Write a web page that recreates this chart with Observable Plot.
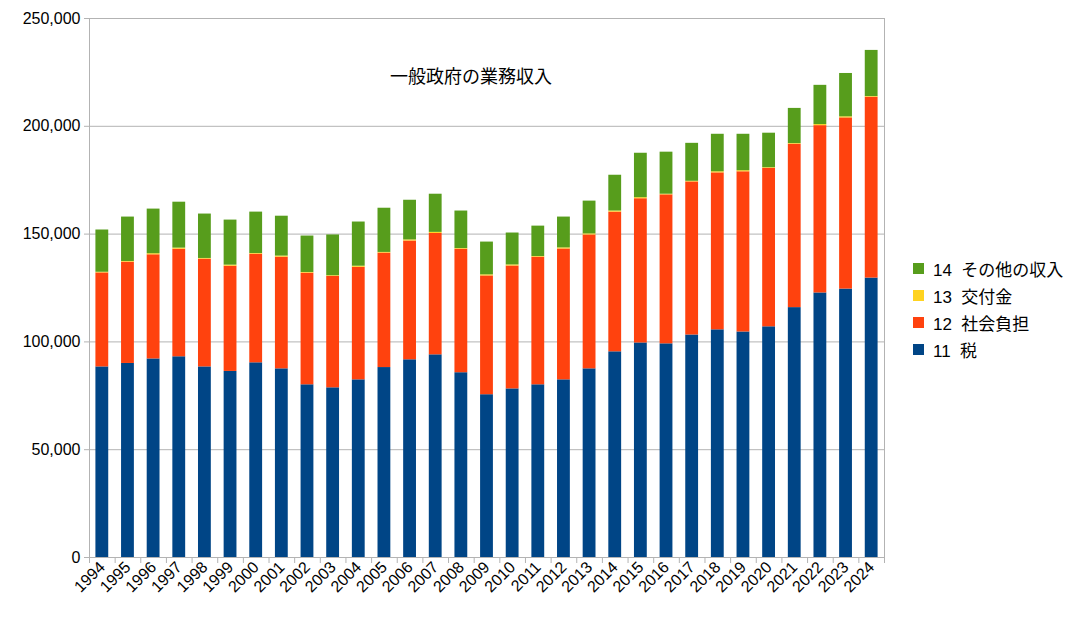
<!DOCTYPE html>
<html><head><meta charset="utf-8">
<script src="https://cdn.jsdelivr.net/npm/d3@7"></script>
<script src="https://cdn.jsdelivr.net/npm/@observablehq/plot@0.6"></script>
<style>
body{margin:0;background:#fff;font-family:"Liberation Sans","Noto Sans CJK JP",sans-serif;}
#wrap{position:relative;width:1092px;height:618px;}
#legend{position:absolute;left:913px;top:255px;font-size:17px;color:#000;}
.item{display:flex;align-items:center;height:27px;white-space:pre;}
.sw{width:11px;height:11px;margin-right:9px;flex:none;}
</style></head><body><div id="wrap"><div id="legend"></div></div>
<script>
const years = ["1994","1995","1996","1997","1998","1999","2000","2001","2002","2003","2004","2005","2006","2007","2008","2009","2010","2011","2012","2013","2014","2015","2016","2017","2018","2019","2020","2021","2022","2023","2024"];
const seriesNames = ["11 税","12 社会負担","13 交付金","14 その他の収入"];
const seriesColors = ["#004586","#ff420e","#ffd320","#579d1c"];
const tax =    [88400,90000,92100,93100,88400,86300,90300,87500,80100,78700,82400,88100,91700,94000,85700,75500,78200,80100,82400,87500,95400,99500,99100,103200,105600,104600,107000,115900,122700,124500,129600];
const social = [43600,47000,48300,49900,50000,48800,50400,51800,51800,51700,52200,53100,55100,56300,57300,55100,57000,59200,60700,62100,64800,66900,69100,71000,72800,74300,73500,75800,77600,79400,83900];
const grant =  [300,300,500,500,300,500,300,500,300,300,500,300,500,500,300,500,500,300,500,500,500,500,300,300,500,500,300,300,500,500,300];
const other =  [19600,20600,20700,21300,20600,20900,19200,18500,16900,18900,20500,20500,18400,17700,17400,15200,14800,14100,14300,15200,16600,20600,19500,17600,17400,16900,16000,16300,18200,20100,21400];
const yTicks = [0,50000,100000,150000,200000,250000];
const title = "一般政府の業務収入";

const seriesValues = [tax, social, grant, other];
const rows = [];
seriesNames.forEach((s, i) => years.forEach((y, j) => rows.push({year: y, series: s, value: seriesValues[i][j]})));

const W = 1092, H = 618, mL = 89, mR = 208, mT = 18, mB = 61;
const step = (W - mL - mR) / years.length;
const font = '"Liberation Sans","Noto Sans CJK JP",sans-serif';

const chart = Plot.plot({
  width: W, height: H,
  marginLeft: mL, marginRight: mR, marginTop: mT, marginBottom: mB,
  style: {fontFamily: font, fontSize: "16px", color: "#000", background: "#fff"},
  x: {type: "band", domain: years, paddingInner: 0.5, paddingOuter: 0.25, round: false, label: null},
  y: {domain: [0, 250000], label: null},
  color: {domain: seriesNames, range: seriesColors},
  marks: [
    Plot.gridY(yTicks, {stroke: "#b3b3b3", strokeOpacity: 1}),
    Plot.frame({stroke: "#b3b3b3"}),
    Plot.barY(rows, {x: "year", y: "value", fill: "series", order: seriesNames}),
    Plot.axisY(yTicks, {tickSize: 5, tickPadding: 4, tickFormat: d3.format(","), stroke: "#b3b3b3", label: null}),
    Plot.axisX({tickSize: 0, tickRotate: -45, tickPadding: 7, label: null}),
    Plot.axisX({tickSize: 6, tickFormat: () => "", dx: -step / 2, stroke: "#b3b3b3", label: null}),
    Plot.axisX([years[years.length - 1]], {tickSize: 6, tickFormat: () => "", dx: step / 2, stroke: "#b3b3b3", label: null}),
    Plot.text([title], {frameAnchor: "top", dy: 52, dx: -16, fontSize: 18, fill: "#000"})
  ]
});
document.getElementById("wrap").prepend(chart);

const legend = document.getElementById("legend");
for (let i = seriesNames.length - 1; i >= 0; i--) {
  const item = document.createElement("div");
  item.className = "item";
  const sw = document.createElement("span");
  sw.className = "sw";
  sw.style.background = seriesColors[i];
  const t = document.createElement("span");
  t.textContent = seriesNames[i].replace(" ", "  ");
  item.append(sw, t);
  legend.append(item);
}
</script></body></html>
